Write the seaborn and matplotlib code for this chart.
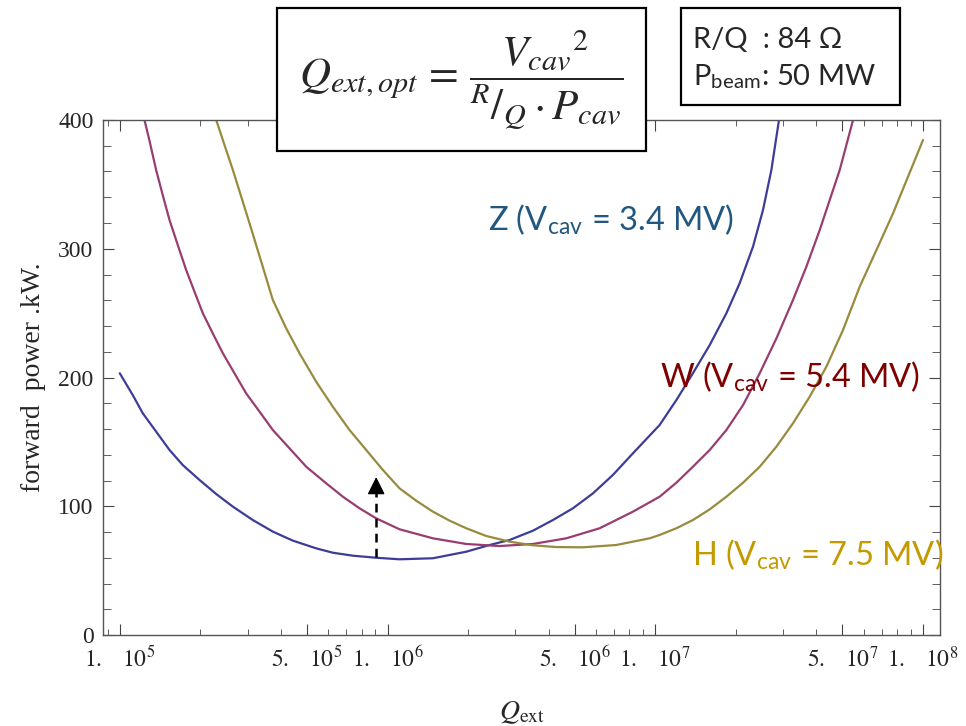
import numpy as np
import pandas as pd
import matplotlib
matplotlib.use("Agg")
import matplotlib.pyplot as plt
import matplotlib.ticker as mticker
from matplotlib.patches import Rectangle
import seaborn as sns

# values (Q_ext, forward power in kW)
q_z = [1.000e5, 1.118e5, 1.219e5, 1.368e5, 1.534e5, 1.719e5, 1.986e5, 2.292e5,
       2.645e5, 3.140e5, 3.730e5, 4.429e5, 5.416e5, 6.249e5, 7.422e5, 9.072e5,
       1.109e6, 1.477e6, 1.968e6, 2.405e6, 2.857e6, 3.491e6, 4.147e6, 4.924e6,
       5.850e6, 6.946e6, 8.251e6, 1.038e7, 1.199e7, 1.382e7, 1.597e7, 1.843e7,
       2.066e7, 2.317e7, 2.525e7, 2.714e7, 2.897e7]
p_z = [203.3, 186.4, 172.2, 157.9, 143.7, 132.0, 120.4, 109.5, 99.7, 89.3, 80.3,
       73.3, 67.3, 63.9, 61.6, 60.0, 58.8, 59.6, 64.7, 69.9, 73.8, 81.0, 89.3,
       98.4, 110.0, 124.3, 141.1, 163.1, 182.5, 203.3, 225.2, 249.9, 273.2,
       301.6, 330.1, 361.2, 400.0]

q_w = [1.237e5, 1.291e5, 1.367e5, 1.447e5, 1.534e5, 1.647e5, 1.770e5, 1.901e5,
       2.043e5, 2.225e5, 2.427e5, 2.683e5, 2.965e5, 3.326e5, 3.730e5, 4.305e5,
       4.970e5, 5.904e5, 6.813e5, 7.861e5, 9.072e5, 1.109e6, 1.477e6, 1.968e6,
       2.620e6, 3.491e6, 4.653e6, 6.197e6, 8.251e6, 1.038e7, 1.199e7, 1.382e7,
       1.597e7, 1.843e7, 2.127e7, 2.455e7, 2.834e7, 3.268e7, 3.667e7, 4.114e7,
       4.482e7, 4.885e7, 5.477e7]
p_w = [400.0, 384.0, 361.2, 341.7, 322.3, 302.9, 283.5, 266.7, 249.9, 234.3,
       218.8, 203.2, 187.7, 173.5, 159.2, 145.0, 130.7, 117.8, 107.4, 98.4, 90.6,
       82.1, 75.1, 70.7, 69.1, 70.7, 75.1, 82.9, 95.8, 107.4, 118.3, 130.7,
       143.7, 159.2, 178.6, 203.3, 230.4, 260.2, 286.1, 314.6, 337.9, 361.2,
       400.0]

q_h = [2.292e5, 2.461e5, 2.645e5, 2.842e5, 3.052e5, 3.375e5, 3.730e5, 4.184e5,
       4.692e5, 5.416e5, 6.249e5, 7.214e5, 8.326e5, 9.608e5, 1.109e6, 1.280e6,
       1.477e6, 1.705e6, 1.968e6, 2.338e6, 2.857e6, 3.491e6, 4.268e6, 5.367e6,
       7.152e6, 9.526e6, 1.038e7, 1.199e7, 1.382e7, 1.597e7, 1.843e7, 2.127e7,
       2.455e7, 2.834e7, 3.268e7, 3.773e7, 4.356e7, 5.025e7, 5.800e7, 6.697e7,
       7.727e7, 8.790e7, 1.000e8]
p_h = [400.0, 380.6, 361.2, 340.4, 319.8, 290.0, 260.2, 238.2, 218.8, 196.7,
       177.3, 159.2, 143.7, 128.2, 113.9, 104.3, 95.8, 88.8, 82.9, 76.9, 72.5,
       69.7, 68.3, 68.1, 69.9, 75.1, 77.7, 82.9, 89.3, 97.6, 107.4, 118.3,
       130.7, 146.3, 164.4, 185.1, 208.4, 236.9, 270.5, 299.0, 327.5, 356.0,
       384.5]

machines = ["Z", "W", "H"]
line_colors = ["#3d3d99", "#993d71", "#998b3d"]
label_texts = ["Z (V$_{\\mathregular{cav}}$ = 3.4 MV)",
               "W (V$_{\\mathregular{cav}}$ = 5.4 MV)",
               "H (V$_{\\mathregular{cav}}$ = 7.5 MV)"]
label_colors = ["#22587f", "#800000", "#c49a00"]

x_ticks = [1e5, 5e5, 1e6, 5e6, 1e7, 5e7, 1e8]
x_ticklabels = [r"$1.\quad 10^{5}$", r"$5.\quad 10^{5}$", r"$1.\quad 10^{6}$",
                r"$5.\quad 10^{6}$", r"$1.\quad 10^{7}$", r"$5.\quad 10^{7}$",
                r"$1.\quad 10^{8}$"]

arrow_q = 9.07e5
arrow_p = [60.6, 122.7]

df = pd.concat([
    pd.DataFrame({"Q": q_z, "P": p_z, "machine": "Z"}),
    pd.DataFrame({"Q": q_w, "P": p_w, "machine": "W"}),
    pd.DataFrame({"Q": q_h, "P": p_h, "machine": "H"}),
], ignore_index=True)

sns.set_style("ticks")
plt.rcParams["font.family"] = ["Liberation Serif", "DejaVu Serif"]
plt.rcParams["mathtext.fontset"] = "stix"

fig = plt.figure(figsize=(9.66, 7.26), dpi=100)
ax = fig.add_axes([103.3 / 966, 1 - 635 / 726, 836.7 / 966, 515 / 726])

sns.lineplot(data=df, x="Q", y="P", hue="machine", hue_order=machines,
             palette=line_colors, sort=False, estimator=None, lw=1.6,
             legend=False, ax=ax)

ax.set_xscale("log")
ax.set_xlim(8.68e4, 1.157e8)
ax.set_ylim(0, 400)
ax.set_xticks(x_ticks)
ax.set_xticklabels(x_ticklabels)
ax.xaxis.set_minor_locator(mticker.LogLocator(base=10, subs=[2, 3, 4, 6, 7, 8, 9], numticks=20))
ax.xaxis.set_minor_formatter(mticker.NullFormatter())
ax.yaxis.set_major_locator(mticker.MultipleLocator(100))
ax.yaxis.set_minor_locator(mticker.MultipleLocator(20))

for s in ax.spines.values():
    s.set_color("#555555")
    s.set_linewidth(1.0)
ax.tick_params(which="both", direction="in", top=True, right=True,
               color="#444444", labelsize=17)
ax.tick_params(axis="x", which="major", length=8, pad=8)
ax.tick_params(axis="x", which="minor", length=4)
ax.tick_params(axis="y", which="major", length=8, pad=7)
ax.tick_params(axis="y", which="minor", length=6)

ax.set_xlabel(r"$Q_{\mathrm{ext}}$", fontsize=20)
ax.xaxis.set_label_coords(0.5, -0.125)
ax.set_ylabel("forward  power .kW.", fontsize=20)
ax.yaxis.set_label_coords(-0.069, 0.5)

# dashed arrow
ax.plot([arrow_q, arrow_q], [arrow_p[0], arrow_p[1] - 9], ls=(0, (3.5, 2.5)),
        color="black", lw=1.8)
ax.annotate("", xy=(arrow_q, arrow_p[1]), xytext=(arrow_q, arrow_p[1] - 12),
            arrowprops=dict(arrowstyle="-|>,head_length=0.4,head_width=0.2",
                            color="black", lw=1.0, mutation_scale=27,
                            shrinkA=0, shrinkB=0))

# curve labels
label_pos = [(0.460, 0.786), (0.665, 0.482), (0.703, 0.136)]
for txt, col, (lx, ly) in zip(label_texts, label_colors, label_pos):
    ax.text(lx, ly, txt, transform=ax.transAxes, color=col, fontsize=23.5,
            family=["Lato", "DejaVu Sans"], va="baseline", ha="left")

# formula box
fig.patches.append(Rectangle((277 / 966, 1 - 151 / 726), 369 / 966, 143 / 726,
                             transform=fig.transFigure, facecolor="white",
                             edgecolor="black", lw=1.6, zorder=5))
fig.text(461 / 966, 1 - 80 / 726,
         r"$Q_{ext,opt}\,=\,\dfrac{V_{cav}{}^{2}}{{}^{R}/_{Q}\cdot P_{cav}}$",
         fontsize=31, ha="center", va="center", zorder=6)

# parameter box
fig.patches.append(Rectangle((681 / 966, 1 - 105 / 726), 219 / 966, 97 / 726,
                             transform=fig.transFigure, facecolor="white",
                             edgecolor="black", lw=1.6, zorder=5))
fig.text(693 / 966, 1 - 40 / 726, "R/Q  : 84 \u03a9", fontsize=21,
         family=["Lato", "DejaVu Sans"], ha="left", va="center", zorder=6)
fig.text(693 / 966, 1 - 77 / 726, "P$_{\\mathregular{beam}}$: 50 MW", fontsize=21,
         family=["Lato", "DejaVu Sans"], ha="left", va="center", zorder=6)

fig.savefig("out.png", dpi=100)
